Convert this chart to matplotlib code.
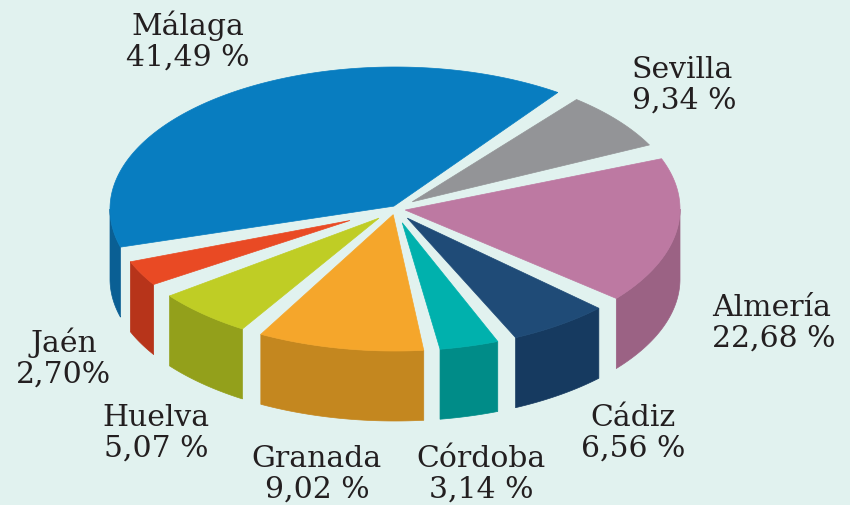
import numpy as np
import matplotlib.pyplot as plt

# data (share of total, %)
names = ["Málaga", "Sevilla", "Almería", "Cádiz", "Córdoba", "Granada", "Huelva", "Jaén"]
shares = [41.49, 9.34, 22.68, 6.56, 3.14, 9.02, 5.07, 2.70]

top_colors = ["#087dc0", "#939497", "#bd79a2", "#1f4b77", "#00b1ad", "#f5a62b", "#bfcd25", "#e94a24"]
side_colors = ["#0a5f94", "#6f7073", "#9b6284", "#163a60", "#008c88", "#c4871f", "#93a01b", "#b7341a"]

# label anchor: x, baseline of first line, alignment
label_pos = [(188, 35, "center"), (632, 78, "left"), (712, 316, "left"),
             (633, 426, "center"), (481, 467, "center"), (317, 467, "center"),
             (156, 426, "center"), (64, 352, "center")]

bg = "#e1f2ef"
txt = "#231f20"
cx, cy = 395, 210      # pie centre (pixels)
rx, ry = 285, 142      # top ellipse radii
depth = 70             # thickness of the pie
gap_in, gap_out = 6, 16  # width of the cut between slices, at centre and at rim
pad = 5.0              # degrees reserved around each slice for the cut
start = 192.3          # angle where Málaga begins, going clockwise
# perspective-like warp of the angles (degrees): near side looks wider
warp_shift, warp_amp, warp_phase = 6.0, 11.0, -170.0


def warp(t):
    return t + warp_shift + warp_amp * np.sin(np.radians(t - warp_phase))


def rim(t):
    r = np.radians(t)
    return np.column_stack([cx + rx * np.cos(r), cy - ry * np.sin(r)])


def edge_normal(angle, inside):
    d = rim(angle)[0] - centre
    L = np.hypot(d[0], d[1])
    u = d / L
    n = np.array([-u[1], u[0]])
    if np.dot(n, inside) < 0:
        n = -n
    # tilt so the cut widens from gap_in at the centre to gap_out at the rim
    return n - (gap_out - gap_in) / 2 / L * u


fig = plt.figure(figsize=(8.5, 5.06), dpi=100)
fig.patch.set_facecolor(bg)
ax = fig.add_axes([0, 0, 1, 1])
ax.set_facecolor(bg)
ax.set_xlim(0, 850)
ax.set_ylim(506, 0)
ax.axis("off")

centre = np.array([cx, cy])
scale = (360 - pad * len(shares)) / 100.0
tops = []
t_hi = start
for i, share in enumerate(shares):
    t_lo = t_hi - (share * scale + pad)
    a_hi, a_lo = warp(t_hi), warp(t_lo)
    mid = rim((a_hi + a_lo) / 2)[0] - centre
    m1 = edge_normal(a_hi, mid)
    m2 = edge_normal(a_lo, mid)

    # tip where the two cut edges meet
    tip = centre + np.linalg.solve(np.array([m1, m2]), np.array([gap_in / 2, gap_in / 2]))

    t = np.linspace(a_lo, a_hi, 3000)
    pts = rim(t)
    rel = pts - centre
    keep = (rel @ m1 >= gap_in / 2) & (rel @ m2 >= gap_in / 2)
    arc = pts[keep]
    tk = t[keep]

    # visible outer wall (front half)
    front = np.sin(np.radians(tk)) < 0
    if front.sum() > 1:
        wall_top = arc[front]
        wall_bot = wall_top + np.array([0, depth])
        wall = np.vstack([wall_top, wall_bot[::-1]])
        ax.add_patch(plt.Polygon(wall, closed=True, facecolor=side_colors[i],
                                 edgecolor=side_colors[i], lw=0.5))

    tops.append(np.vstack([tip, arc]))
    t_hi = t_lo

for i, poly in enumerate(tops):
    ax.add_patch(plt.Polygon(poly, closed=True, facecolor=top_colors[i],
                             edgecolor=top_colors[i], lw=0.5))

# labels
for name, share, (x, y, ha) in zip(names, shares, label_pos):
    pct = f"{share:.2f}".replace(".", ",") + ("%" if name == "Jaén" else " %")
    ax.text(x, y, name, ha=ha, va="baseline", fontsize=21.5,
            family="DejaVu Serif", color=txt)
    ax.text(x, y + 31, pct, ha=ha, va="baseline", fontsize=21.5,
            family="DejaVu Serif", color=txt)

fig.savefig("out.png", dpi=100, facecolor=bg)
